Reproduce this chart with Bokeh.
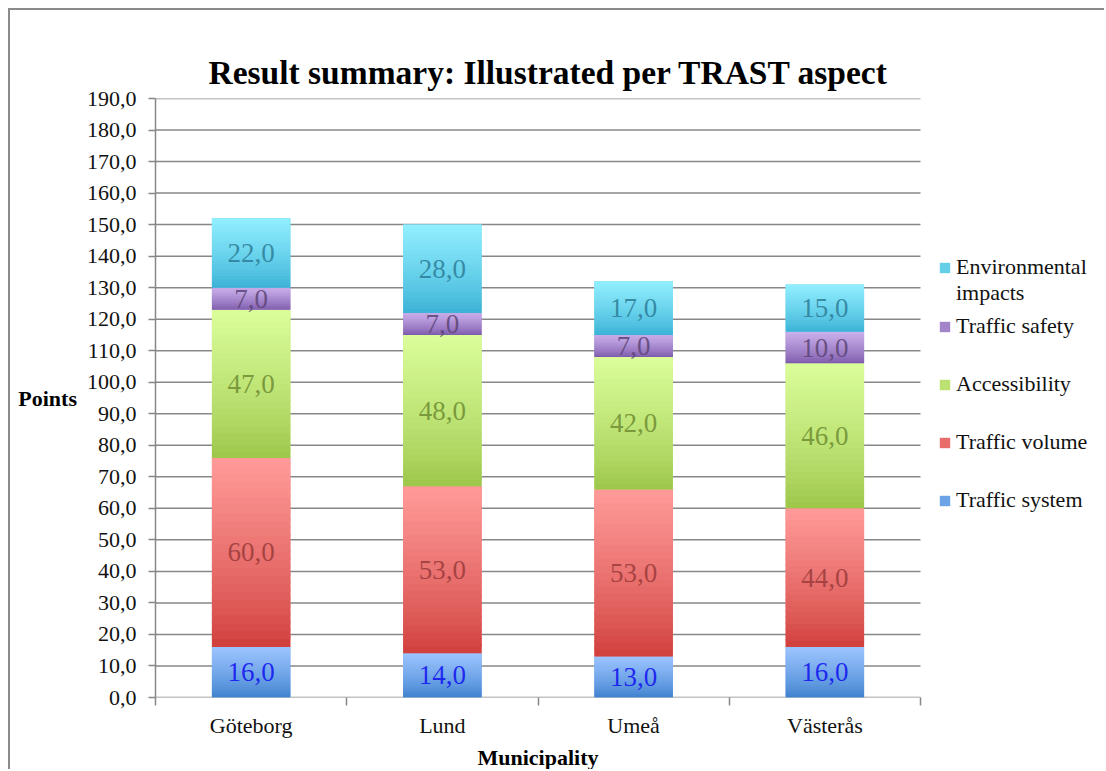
from bokeh.plotting import figure
from bokeh.models import (ColumnDataSource, Range1d, FixedTicker, CustomJSTickFormatter,
                          Legend, LegendItem, Title)
from bokeh.core.properties import value
from bokeh.embed import file_html
from bokeh.resources import INLINE

# ---------------- data ----------------
municipalities = ["Göteborg", "Lund", "Umeå", "Västerås"]
aspects = ["Traffic system", "Traffic volume", "Accessibility", "Traffic safety", "Environmental impacts"]
traffic_system = [16, 14, 13, 16]
traffic_volume = [60, 53, 53, 44]
accessibility = [47, 48, 42, 46]
traffic_safety = [7, 7, 7, 10]
environmental_impacts = [22, 28, 17, 15]
y_ticks = list(range(0, 191, 10))

series = [traffic_system, traffic_volume, accessibility, traffic_safety, environmental_impacts]

# ---------------- style ----------------
FONT = "Liberation Serif"
GRID = "#878787"
top_colors = ["#9cc5ff", "#ff9b99", "#dbfe9b", "#cbb1ec", "#92efff"]
bottom_colors = ["#3d7fcd", "#cf3d3a", "#9bc548", "#7b58aa", "#38b0d5"]
mid_colors = ["#6ca2e6", "#e86c6a", "#bbe172", "#a384cb", "#65cfea"]
label_colors = ["#1010f0", "#9a3a3a", "#6e8c32", "#5c4476", "#2d7d98"]
BAR_W = 0.41
N_SLICES = 24

W, H = 1096, 761
FRAME_LEFT = 145          # px from canvas left to plot area
PLOT_AREA_W = 765         # px width of the category area (4 categories)
# the frame extends to the canvas right edge so that the legend (drawn inside it) is not clipped
x_end = len(municipalities) * (W - FRAME_LEFT) / PLOT_AREA_W


def hex2rgb(h):
    h = h.lstrip("#")
    return tuple(int(h[i:i + 2], 16) for i in (0, 2, 4))


def mix(c1, c2, t):
    a, b = hex2rgb(c1), hex2rgb(c2)
    return "#%02x%02x%02x" % tuple(int(round(a[i] + (b[i] - a[i]) * t)) for i in range(3))


xs = [i + 0.5 for i in range(len(municipalities))]

p = figure(width=W, height=H, output_backend="svg", toolbar_location=None,
           x_range=Range1d(0, x_end), y_range=Range1d(0, 190),
           min_border_left=FRAME_LEFT, min_border_right=0, min_border_top=88, min_border_bottom=74)
p.styles = {"margin": "8px 0 0 8px",
            "border-top": "2px solid #8a8a8a", "border-left": "2px solid #8a8a8a"}
p.outline_line_color = None
p.background_fill_color = "white"
p.border_fill_color = "white"

# title
p.title.text = "Result summary: Illustrated per TRAST aspect"
p.title.align = "left"
p.title.offset = 53
p.title.text_font = FONT
p.title.text_font_size = "33.5px"
p.title.text_font_style = "bold"
p.title.text_color = "#000000"
p.title.standoff = 15

# horizontal gridlines across the category area only
p.xgrid.visible = False
p.ygrid.visible = False
p.segment(x0=0, x1=len(municipalities), y0=y_ticks, y1=y_ticks, line_color=GRID, line_width=1.5)

# base stacked bars
src = ColumnDataSource(dict(x=xs, **{a: s for a, s in zip(aspects, series)}))
base = p.vbar_stack(aspects, x="x", width=BAR_W, source=src, color=mid_colors, line_color=None)

# gradient overlay slices (computed from data values)
gx, gb, gt, gc = [], [], [], []
lx, ly, lt, lc = [], [], [], []
cum = [0] * len(municipalities)
for k, s in enumerate(series):
    for i, v in enumerate(s):
        b = cum[i]
        for j in range(N_SLICES):
            y0 = b + v * j / N_SLICES
            y1 = b + v * (j + 1) / N_SLICES
            if j < N_SLICES - 1:
                y1 += v / N_SLICES * 0.4
            frac = (j + 0.5) / N_SLICES
            gx.append(xs[i]); gb.append(y0); gt.append(y1)
            gc.append(mix(bottom_colors[k], top_colors[k], frac ** 0.8))
        lx.append(xs[i]); ly.append(b + v / 2)
        lt.append(f"{v:.1f}".replace(".", ",")); lc.append(label_colors[k])
        cum[i] = b + v

p.vbar(x="x", bottom="b", top="t", width=BAR_W, fill_color="c", line_color=None,
       source=ColumnDataSource(dict(x=gx, b=gb, t=gt, c=gc)))

p.text(x="x", y="y", text="t", text_color="c", text_align="center", text_baseline="middle",
       text_font=value(FONT), text_font_size="27px", text_alpha=0.85,
       source=ColumnDataSource(dict(x=lx, y=ly, t=lt, c=lc)))

# axes
p.xaxis.ticker = FixedTicker(ticks=xs, minor_ticks=list(range(len(municipalities) + 1)))
p.xaxis.formatter = CustomJSTickFormatter(args=dict(cats=municipalities), code="""
const i = Math.floor(tick);
return (i >= 0 && i < cats.length) ? cats[i] : '';
""")
p.xaxis.axis_line_color = None
p.xaxis.major_tick_out = 0
p.xaxis.major_tick_in = 0
p.xaxis.minor_tick_out = 8
p.xaxis.minor_tick_in = 0
p.xaxis.minor_tick_line_color = GRID
p.xaxis.minor_tick_line_width = 1.5
p.xaxis.major_label_standoff = 7

p.yaxis.ticker = FixedTicker(ticks=y_ticks)
p.yaxis.formatter = CustomJSTickFormatter(code="return tick.toFixed(1).replace('.', ',');")
p.yaxis.axis_line_color = GRID
p.yaxis.axis_line_width = 1.5
p.yaxis.major_tick_out = 7
p.yaxis.major_tick_in = 0
p.yaxis.minor_tick_line_color = None
p.yaxis.axis_label = "Points"
p.yaxis.axis_label_orientation = "horizontal"
p.yaxis.major_label_standoff = 12
p.yaxis.axis_label_standoff = 7
p.yaxis.major_tick_line_color = GRID
p.yaxis.major_tick_line_width = 1.5

for ax in (p.xaxis, p.yaxis):
    ax.major_label_text_font = FONT
    ax.major_label_text_font_size = "22px"
    ax.major_label_text_color = "#111111"
    ax.axis_label_text_font = FONT
    ax.axis_label_text_font_size = "22px"
    ax.axis_label_text_font_style = "bold"
    ax.axis_label_text_color = "#000000"

# x axis title, centred under the category area
p.add_layout(Title(text="Municipality", align="left", offset=322, standoff=4,
                   text_font=FONT, text_font_size="22px", text_font_style="bold",
                   text_color="#000000"), "below")

# legends (top: environmental impacts on two lines; then the rest in reverse stack order)
dummy = p.vbar(x=[], top=[], width=BAR_W, fill_alpha=0, line_alpha=0)
legend_style = dict(margin=0, padding=0, glyph_width=13, glyph_height=13, label_standoff=5,
                    label_text_font=FONT, label_text_font_size="22px", label_text_color="#111111",
                    label_height=24, border_line_color=None, background_fill_alpha=0)
legend_env = Legend(items=[LegendItem(label="Environmental", renderers=[base[4]]),
                           LegendItem(label="impacts", renderers=[dummy])],
                    location=(783, 391), spacing=0, **legend_style)
legend_rest = Legend(items=[LegendItem(label=aspects[k], renderers=[base[k]]) for k in (3, 2, 1, 0)],
                     location=(783, 184), spacing=32, **legend_style)
p.add_layout(legend_env)
p.add_layout(legend_rest)

open("out.html", "w").write(file_html(p, INLINE))
